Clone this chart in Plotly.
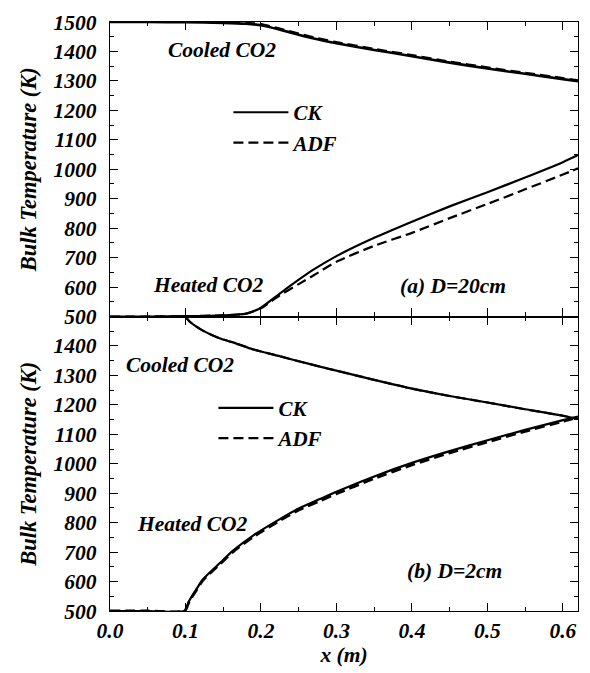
import plotly.graph_objects as go
from plotly.subplots import make_subplots

# ---- data: panel (a) D=20cm ----
x_a = [0.0, 0.05, 0.10, 0.15, 0.18, 0.20, 0.225, 0.25, 0.27, 0.30, 0.35, 0.40, 0.45, 0.50, 0.55, 0.60, 0.62]
cooled_ck_a = [1500, 1500, 1499, 1497, 1494, 1489, 1474, 1457, 1444, 1428, 1405, 1384, 1362, 1342, 1324, 1306, 1299]
cooled_adf_a = [1502, 1502, 1501, 1500, 1497, 1492, 1477, 1460, 1447, 1431, 1408, 1387, 1365, 1345, 1327, 1309, 1301]
heated_ck_a = [500, 500, 501, 504, 510, 530, 578, 625, 660, 705, 767, 822, 874, 922, 972, 1024, 1048]
heated_adf_a = [500, 500, 501, 504, 509, 528, 572, 610, 640, 686, 740, 784, 834, 882, 932, 982, 1003]

# ---- data: panel (b) D=2cm ----
x_b = [0.0, 0.05, 0.099, 0.105, 0.113, 0.123, 0.146, 0.163, 0.19, 0.225, 0.25, 0.278, 0.30, 0.35, 0.40, 0.45, 0.50, 0.55, 0.60, 0.62]
cooled_ck_b = [1500, 1500, 1500, 1484, 1468, 1452, 1425, 1412, 1388, 1365, 1348, 1330, 1316, 1285, 1255, 1230, 1208, 1185, 1163, 1152]
cooled_adf_b = [1500, 1500, 1500, 1484, 1468, 1452, 1425, 1412, 1388, 1365, 1348, 1330, 1316, 1285, 1255, 1230, 1208, 1185, 1163, 1152]
heated_ck_b = [500, 500, 501, 535, 568, 607, 664, 705, 757, 812, 848, 880, 905, 957, 1003, 1043, 1080, 1115, 1148, 1160]
heated_adf_b = [500, 500, 501, 533, 565, 604, 660, 701, 752, 807, 843, 874, 898, 950, 996, 1037, 1074, 1110, 1144, 1157]

x_ticks = [0.0, 0.1, 0.2, 0.3, 0.4, 0.5, 0.6]
x_labels = ["0.0", "0.1", "0.2", "0.3", "0.4", "0.5", "0.6"]
y_ticks_a = [500, 600, 700, 800, 900, 1000, 1100, 1200, 1300, 1400, 1500]
y_ticks_b = [500, 600, 700, 800, 900, 1000, 1100, 1200, 1300, 1400]

FONT = '"Liberation Serif", "Times New Roman", Times, serif'
def f(size):
    return dict(family=FONT, size=size, color="black", weight="bold", style="italic")

fig = make_subplots(rows=2, cols=1, shared_xaxes=True, vertical_spacing=0.0)

LW = 2.2
SOLID = dict(color="black", width=LW, shape="spline", smoothing=0.6)
DASH = dict(color="black", width=LW, dash="10px,5px", shape="spline", smoothing=0.6)

fig.add_trace(go.Scatter(x=x_a, y=heated_ck_a, mode="lines", name="CK", line=SOLID, legend="legend"), row=1, col=1)
fig.add_trace(go.Scatter(x=x_a, y=heated_adf_a, mode="lines", name="ADF", line=DASH, legend="legend"), row=1, col=1)
fig.add_trace(go.Scatter(x=x_a, y=cooled_ck_a, mode="lines", showlegend=False, line=dict(SOLID, width=2.6)), row=1, col=1)
fig.add_trace(go.Scatter(x=x_a, y=cooled_adf_a, mode="lines", showlegend=False, line=dict(DASH, width=2.6)), row=1, col=1)

fig.add_trace(go.Scatter(x=x_b, y=cooled_ck_b, mode="lines", name="CK", line=SOLID, legend="legend2"), row=2, col=1)
fig.add_trace(go.Scatter(x=x_b, y=cooled_adf_b, mode="lines", name="ADF", line=DASH, legend="legend2"), row=2, col=1)
fig.add_trace(go.Scatter(x=x_b, y=heated_ck_b, mode="lines", showlegend=False, line=SOLID), row=2, col=1)
fig.add_trace(go.Scatter(x=x_b, y=heated_adf_b, mode="lines", showlegend=False,
                         line=dict(DASH, width=LW + 0.6)), row=2, col=1)

axis_common = dict(showline=True, linecolor="black", linewidth=1.2, mirror="ticks",
                   ticks="inside", ticklen=8, tickwidth=1.2, tickcolor="black",
                   showgrid=False, zeroline=False, tickfont=f(21.5))

fig.update_xaxes(range=[0, 0.62], tickvals=x_ticks, ticktext=x_labels,
                 minor=dict(ticks="inside", dtick=0.05, tick0=0, ticklen=4, tickwidth=1.2, tickcolor="black"),
                 **axis_common)
fig.update_xaxes(showticklabels=False, row=1, col=1)
fig.update_xaxes(title=dict(text="x (m)", font=f(21.5), standoff=4), row=2, col=1)

fig.update_yaxes(range=[500, 1500], minor=dict(ticks="inside", dtick=50, tick0=0, ticklen=4,
                                                tickwidth=1.2, tickcolor="black"),
                 ticklabelstandoff=8,
                 title=dict(text="Bulk Temperature (K)", font=f(22.5), standoff=10),
                 **axis_common)
fig.update_yaxes(tickvals=y_ticks_a, row=1, col=1)
fig.update_yaxes(tickvals=y_ticks_b, row=2, col=1)

ann = [
    ("Cooled CO2", 0.148, 1404, "x", "y"),
    ("Heated CO2", 0.131, 608, "x", "y"),
    ("(a) D=20cm", 0.455, 605, "x", "y"),
    ("Cooled CO2", 0.093, 1337, "x2", "y2"),
    ("Heated CO2", 0.109, 797, "x2", "y2"),
    ("(b) D=2cm", 0.456, 635, "x2", "y2"),
]
for t, xx, yy, xr, yr in ann:
    fig.add_annotation(text=t, x=xx, y=yy, xref=xr, yref=yr, showarrow=False, font=f(21.5))

leg_common = dict(font=f(21), bgcolor="rgba(0,0,0,0)", borderwidth=0, itemwidth=55,
                  xanchor="left", yanchor="top", tracegroupgap=0)
fig.update_layout(
    width=590, height=673,
    margin=dict(l=110, r=11, t=17, b=61),
    paper_bgcolor="white", plot_bgcolor="white",
    legend=dict(x=0.253, y=0.881, **leg_common),
    legend2=dict(x=0.221, y=0.379, **leg_common),
)

fig.write_html("out.html")
